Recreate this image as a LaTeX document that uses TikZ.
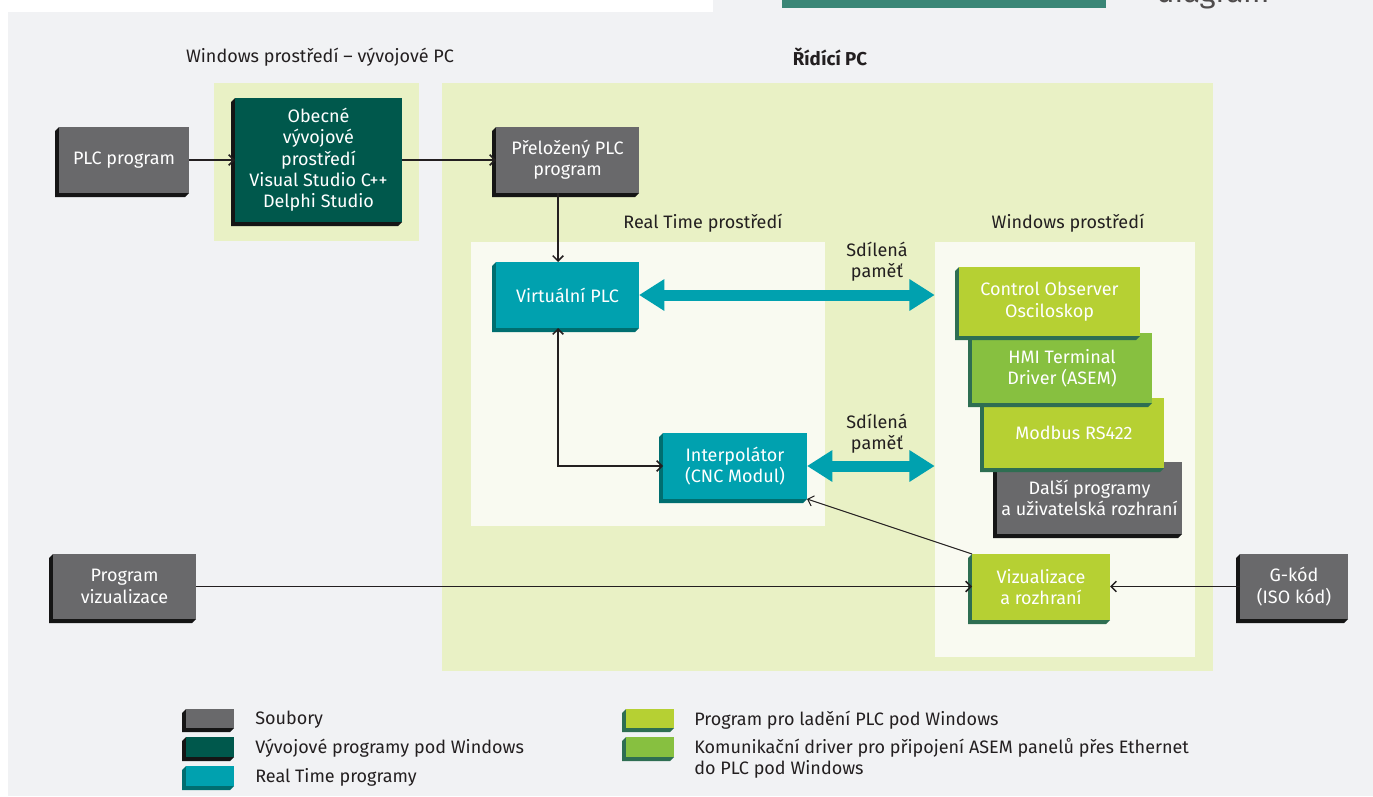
\documentclass[tikz,border=0pt]{standalone}
\usepackage{fontspec}
\setmainfont{Fira Sans}
\usetikzlibrary{arrows.meta,fit}
\definecolor{bggray}{HTML}{F1F2F4}
\definecolor{panelgreen}{HTML}{E9F1C5}
\definecolor{panelwhite}{HTML}{F9FAF1}
\definecolor{boxgray}{HTML}{69696B}
\definecolor{darkgreen}{HTML}{00584C}
\definecolor{teal}{HTML}{00A1AF}
\definecolor{tealshadow}{HTML}{006E70}
\definecolor{ygreen}{HTML}{B6D033}
\definecolor{mgreen}{HTML}{87C040}
\definecolor{greenshadow}{HTML}{2E6E52}
\definecolor{blackshadow}{HTML}{151515}
\definecolor{txt}{HTML}{231F20}
\definecolor{topgreen}{HTML}{3A8676}
\newcommand\bx[8]{%
  \fill[#7] (#2,#3) -- ({#2-4},{#3+4}) -- ({#2-4},{#5+4}) -- ({#4-4},{#5+4}) -- (#4,#5) -- cycle;
  \node[boxtxt, fill=#6, minimum width={(#4-#2)*0.75pt}, minimum height={(#5-#3)*0.75pt}] (#1) at ({(#2+#4)/2},{(#3+#5)/2}) {#8};
}
\tikzset{
  boxtxt/.style={inner sep=0pt, outer sep=0pt, text=white, align=center, font=\fontsize{13.5}{16}\selectfont},
  lbl/.style={inner sep=0pt, text=txt, align=center, font=\fontsize{13.5}{16}\selectfont},
  legtxt/.style={inner sep=0pt, text=txt, align=left, anchor=west, font=\fontsize{13.5}{15.75}\selectfont},
  panel/.style={inner sep=0pt, draw=none},
  thin arrow/.style={draw=txt, line width=1.1pt, -{Straight Barb[length=4pt,width=8pt]}},
  thin both/.style={draw=txt, line width=1.1pt, {Straight Barb[length=4pt,width=8pt]}-{Straight Barb[length=4pt,width=8pt]}},
  thick arrow/.style={draw=teal, line width=8.25pt, {Triangle[length=19pt,width=22.5pt]}-{Triangle[length=19pt,width=22.5pt]}},
}
\begin{document}
\begin{tikzpicture}[x=0.75pt,y=-0.75pt]
\useasboundingbox (0,0) rectangle (1373,796);
% page background
\fill[white] (0,0) rectangle (1373,796);
\fill[bggray] (8,12) rectangle (1373,796);
\fill[bggray] (713,0) rectangle (1373,12);
\fill[topgreen] (782,0) rectangle (1106,8);
\begin{scope}
  \clip (0,0) rectangle (1373,796);
  \node[anchor=base west, inner sep=0pt, text=txt!80, font=\fontsize{23}{23}\selectfont] (dg) at (1156,2.5) {diagram};
\end{scope}
% titles
\node[lbl] (t1) at (320,57) {Windows prostředí – vývojové PC};
\node[lbl, font=\fontsize{14}{16}\selectfont\bfseries] (t2) at (830,57) {Řídící PC};
% panels
\node[panel, fill=panelgreen, fit={(214,83) (419,241)}] (devpanel) {};
\node[panel, fill=panelgreen, fit={(442,83) (1213,671)}] (ctrlpanel) {};
\node[panel, fill=panelwhite, fit={(471,242) (825,526)}] (rtpanel) {};
\node[panel, fill=panelwhite, fit={(935,242) (1195,657)}] (winpanel) {};
\node[lbl] (t3) at (703,223) {Real Time prostředí};
\node[lbl] (t4) at (1068,223) {Windows prostředí};
% boxes
\bx{plc}{59}{127}{189}{193}{boxgray}{blackshadow}{PLC program}
\bx{obec}{235}{98}{402}{222}{darkgreen}{blackshadow}{Obecné\\vývojové\\prostředí\\Visual Studio C++\\Delphi Studio}
\bx{prel}{496}{127}{639}{193}{boxgray}{blackshadow}{Přeložený PLC\\program}
\bx{virt}{496}{262}{639}{328}{teal}{tealshadow}{Virtuální PLC}
\bx{interp}{663}{433}{807}{499}{teal}{tealshadow}{Interpolátor\\(CNC Modul)}
\bx{dalsi}{997}{462}{1182}{534}{boxgray}{blackshadow}{Další programy\\a uživatelská rozhraní}
\bx{modbus}{984}{398}{1164}{468}{ygreen}{greenshadow}{Modbus RS422}
\bx{hmi}{972}{333}{1152}{403}{mgreen}{greenshadow}{HMI Terminal\\Driver (ASEM)}
\bx{ctrl}{959}{267}{1140}{336}{ygreen}{greenshadow}{Control Observer\\Osciloskop}
\bx{viz}{972}{554}{1110}{620}{ygreen}{greenshadow}{Vizualizace\\a rozhraní}
\bx{progviz}{53}{554}{196}{619}{boxgray}{blackshadow}{Program\\vizualizace}
\bx{gkod}{1240}{554}{1348}{619}{boxgray}{blackshadow}{G-kód\\(ISO kód)}
% shared memory labels
\node[lbl] (s1) at (877,262) {Sdílená\\paměť};
\node[lbl] (s2) at (877,434) {Sdílená\\paměť};
% connectors
\coordinate (vx) at (558,0);
\draw[thin arrow] (plc) -- (obec);
\draw[thin arrow] (obec) -- (prel);
\draw[thin arrow] (prel.south -| vx) -- (virt.north -| vx);
\draw[thin both] (virt.south -| vx) |- (interp.west);
\draw[thick arrow] (virt.east) -- (virt.east -| winpanel.west);
\draw[thick arrow] (interp.east) -- (interp.east -| winpanel.west);
\draw[thin arrow] (progviz.east) -- (progviz.east -| viz.west);
\draw[thin arrow] (gkod.west) -- (gkod.west -| viz.east);
\draw[thin arrow, line width=0.8pt] (viz.north west) -- (interp.south east);
% legend
\bx{lg1}{186}{709}{234}{728}{boxgray}{blackshadow}{}
\bx{lg2}{186}{737}{234}{757}{darkgreen}{blackshadow}{}
\bx{lg3}{186}{766}{234}{786}{teal}{tealshadow}{}
\bx{lg4}{626}{709}{674}{728}{ygreen}{greenshadow}{}
\bx{lg5}{626}{737}{674}{757}{mgreen}{greenshadow}{}
\node[legtxt] (l1) at (255,720) {Soubory};
\node[legtxt] (l2) at (255,748) {Vývojové programy pod Windows};
\node[legtxt] (l3) at (255,777) {Real Time programy};
\node[legtxt] (l4) at (694,720) {Program pro ladění PLC pod Windows};
\node[legtxt] (l5) at (694,758.5) {Komunikační driver pro připojení ASEM panelů přes Ethernet\\do PLC pod Windows};
\end{tikzpicture}
\end{document}
